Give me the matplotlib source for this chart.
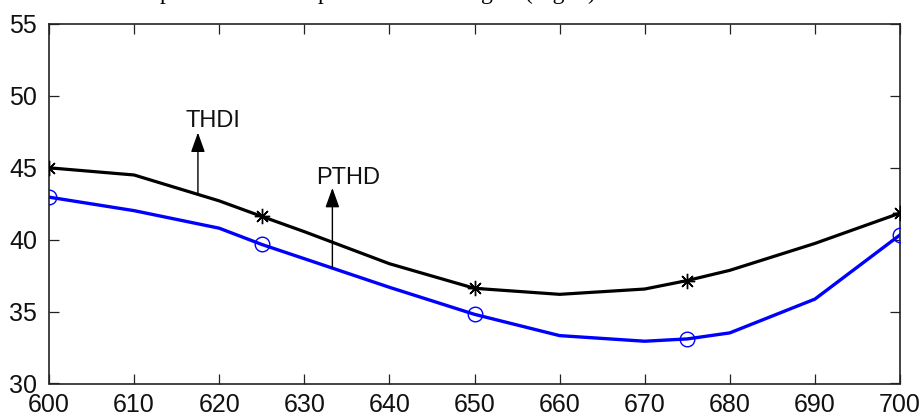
import matplotlib
matplotlib.use("Agg")
import matplotlib.pyplot as plt

# ---- data ----
wavelength = [600, 610, 620, 625, 630, 640, 650, 660, 670, 675, 680, 690, 700]
thdi = [45.0, 44.5, 42.7, 41.62, 40.56, 38.33, 36.62, 36.2, 36.57, 37.16, 37.87, 39.74, 41.85]
pthd = [42.96, 42.02, 40.8, 39.67, 38.68, 36.69, 34.81, 33.33, 32.94, 33.1, 33.52, 35.87, 40.33]
marker_x = [600, 625, 650, 675, 700]

x_ticks = [600, 610, 620, 630, 640, 650, 660, 670, 680, 690, 700]
y_ticks = [30, 35, 40, 45, 50, 55]

# annotation anchors (data coords)
thdi_arrow = (617.5, 43.2, 47.45)   # x, start y, tip y
pthd_arrow = (633.3, 38.1, 43.6)
thdi_label = (616.0, 47.83, "THDI")
pthd_label = (631.4, 43.86, "PTHD")

mark_idx = [wavelength.index(m) for m in marker_x]

W, H = 923, 416
fig = plt.figure(figsize=(W / 100, H / 100), dpi=100)
ax = fig.add_axes([49 / W, 1 - 383.5 / H, (900 - 49) / W, (383.5 - 24) / H])

ax.plot(wavelength, thdi, color="black", lw=2.3, marker=(8, 2, 0), markevery=mark_idx,
        markersize=11, markeredgewidth=1.0, zorder=3)
ax.plot(wavelength, pthd, color="#0000FF", lw=2.4, marker="o", markevery=mark_idx,
        markersize=10.5, markerfacecolor="none", markeredgecolor="#0000FF",
        markeredgewidth=1.0, zorder=3)

ax.set_xlim(600, 700)
ax.set_ylim(30, 55)
ax.set_xticks(x_ticks)
ax.set_yticks(y_ticks)
ax.set_xticklabels([str(v) for v in x_ticks])
ax.set_yticklabels([str(v) for v in y_ticks])

for s in ax.spines.values():
    s.set_color("#222222")
    s.set_linewidth(1.2)
ax.tick_params(direction="in", length=7, width=0.9, color="#222222",
               top=True, right=True, labelsize=18)
ax.tick_params(axis="y", pad=8.5)
ax.tick_params(axis="x", pad=7)
for lab in ax.get_xticklabels() + ax.get_yticklabels():
    lab.set_family("Liberation Sans")
    lab.set_color("#111111")

arrow_style = dict(arrowstyle="-|>,head_length=1.2,head_width=0.43", lw=1.0,
                   color="black", shrinkA=0, shrinkB=0)
for (ax_x, y0, y1) in [thdi_arrow, pthd_arrow]:
    ax.annotate("", xy=(ax_x, y1), xytext=(ax_x, y0), arrowprops=arrow_style,
                zorder=4)

for (tx, ty, s) in [thdi_label, pthd_label]:
    ax.text(tx, ty, s, ha="left", va="baseline", fontsize=17,
            family="Liberation Sans", color="#111111")

# cropped line of caption text above the plot (only descenders visible)
top_y = 1.0 + 1.5 / H
for (px, s, ha) in [(165, "p", "center"), (323, "p", "center"),
                    (487, "g", "center"), (525, "(Fig. 2)", "left")]:
    fig.text(px / W, top_y, s, ha=ha, va="baseline", fontsize=17,
             family="Liberation Serif", color="black")

fig.savefig("out.png", dpi=100)
